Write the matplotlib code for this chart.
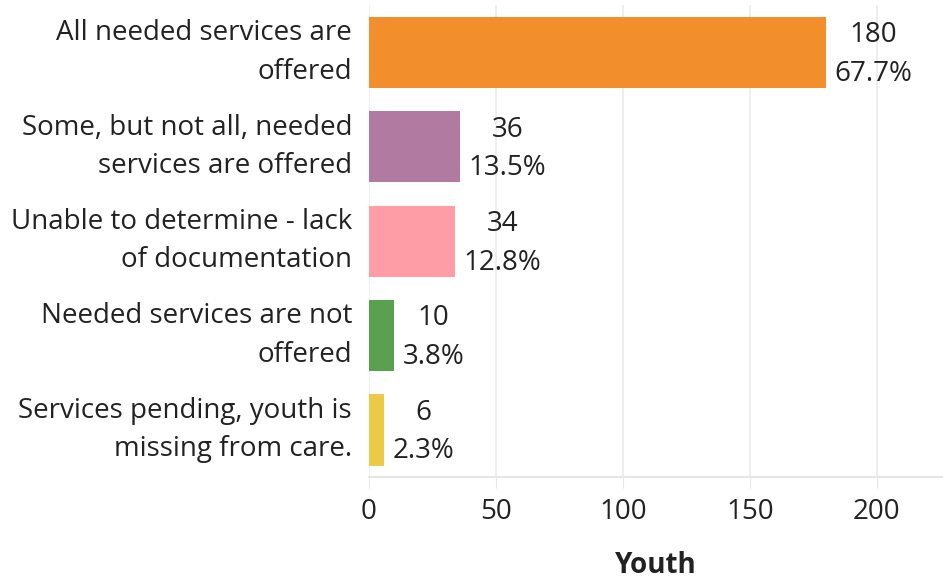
import matplotlib
matplotlib.use("Agg")
from matplotlib import pyplot as plt

categories = [
    "All needed services are\noffered",
    "Some, but not all, needed\nservices are offered",
    "Unable to determine - lack\nof documentation",
    "Needed services are not\noffered",
    "Services pending, youth is\nmissing from care.",
]
counts = [180, 36, 34, 10, 6]
percents = ["67.7%", "13.5%", "12.8%", "3.8%", "2.3%"]
colors = ["#F28E2B", "#B07AA1", "#FF9DA7", "#59A14F", "#EDC948"]
xticks = [0, 50, 100, 150, 200]

plt.rcParams['font.family'] = ['Open Sans', 'DejaVu Sans']
fs = 20

fig = plt.figure(figsize=(9.43, 5.82), dpi=100)
ax = fig.add_axes([0.391, 0.180, 0.609, 0.811])

ypos = list(range(len(categories)))
ax.barh(ypos, counts, height=0.755, color=colors, zorder=3)
ax.set_ylim(len(categories) - 0.5, -0.5)
ax.set_xlim(0, 226)

for y, c, p in zip(ypos, counts, percents):
    ax.annotate(f"{c}\n{p}", (c, y), xytext=(6, -1.5), textcoords="offset points",
                ha="left", va="center", multialignment="center",
                fontsize=fs, color="#222222", linespacing=1.5)

ax.set_yticks(ypos)
ax.set_yticklabels(categories, fontsize=fs, color="#222222", linespacing=1.5,
                   ha="right", va="center", multialignment="right")
ax.tick_params(axis="y", length=0, pad=12)
ax.set_xticks(xticks)
ax.tick_params(axis="x", length=8, color="#e6e6e6", labelsize=fs,
               labelcolor="#222222", pad=7)
ax.grid(axis="x", color="#ebebeb", linewidth=1.2, zorder=0)

for s in ["top", "right", "left"]:
    ax.spines[s].set_visible(False)
ax.spines["bottom"].set_color("#e6e6e6")
ax.spines["bottom"].set_linewidth(1.5)

ax.set_xlabel("Youth", fontsize=fs, fontweight="bold", color="#222222", labelpad=18)

fig.savefig("out.png", dpi=100)
